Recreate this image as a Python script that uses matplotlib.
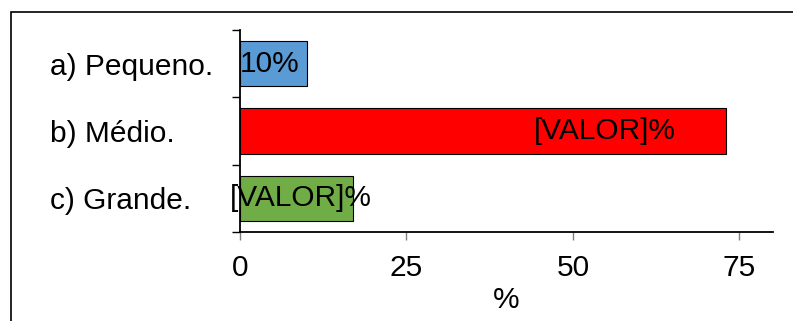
import matplotlib
matplotlib.use("Agg")
import matplotlib.pyplot as plt
from matplotlib.patches import Rectangle

plt.rcParams['font.family'] = ['Liberation Sans', 'DejaVu Sans']

# Respostas (percentual)
categorias = ['a) Pequeno.', 'b) Médio.', 'c) Grande.']
valores = [10, 73, 17]
rotulos = ['10%', '[VALOR]%', '[VALOR]%']
cores = ['#5B9BD5', '#FF0000', '#70AD47']
xticks = [0, 25, 50, 75]

fs = 21.5

fig = plt.figure(figsize=(7.93, 3.21), dpi=100)
ax = fig.add_axes([240 / 793, 1 - 232 / 321, 532.7 / 793, 202 / 321])

pos = list(range(len(categorias)))
bars = ax.barh(pos, valores, height=0.67, color=cores, edgecolor='black', linewidth=0.8)

# posição relativa do rótulo dentro da barra
frac = [0.44, 0.75, 0.54]
for b, v, r, f in zip(bars, valores, rotulos, frac):
    ax.text(v * f, b.get_y() + b.get_height() / 2, r, ha='center', va='center',
            fontsize=fs, color='black')

ax.set_xlim(0, 80)
ax.set_ylim(2.5, -0.5)
ax.set_xticks(xticks)
ax.set_xticklabels([str(t) for t in xticks], fontsize=fs)
ax.tick_params(axis='x', length=6, width=1, color='#808080', pad=10)

ax.set_yticks(pos)
ax.set_yticklabels(categorias, fontsize=fs, ha='left')
ax.tick_params(axis='y', length=0, pad=136.8)
ax.set_yticks([-0.5, 0.5, 1.5, 2.5], minor=True)
ax.tick_params(axis='y', which='minor', length=6, width=1, color='black')

ax.set_xlabel('%', fontsize=fs, labelpad=3)

for s in ['top', 'right']:
    ax.spines[s].set_visible(False)
for s in ['left', 'bottom']:
    ax.spines[s].set_linewidth(1.3)

# moldura do gráfico
fig.patches.append(Rectangle((11 / 793, -0.1), 1.2, 1 - 12 / 321 + 0.1,
                             transform=fig.transFigure, fill=False,
                             edgecolor='black', linewidth=1.2))

fig.savefig('out.png', dpi=100)
